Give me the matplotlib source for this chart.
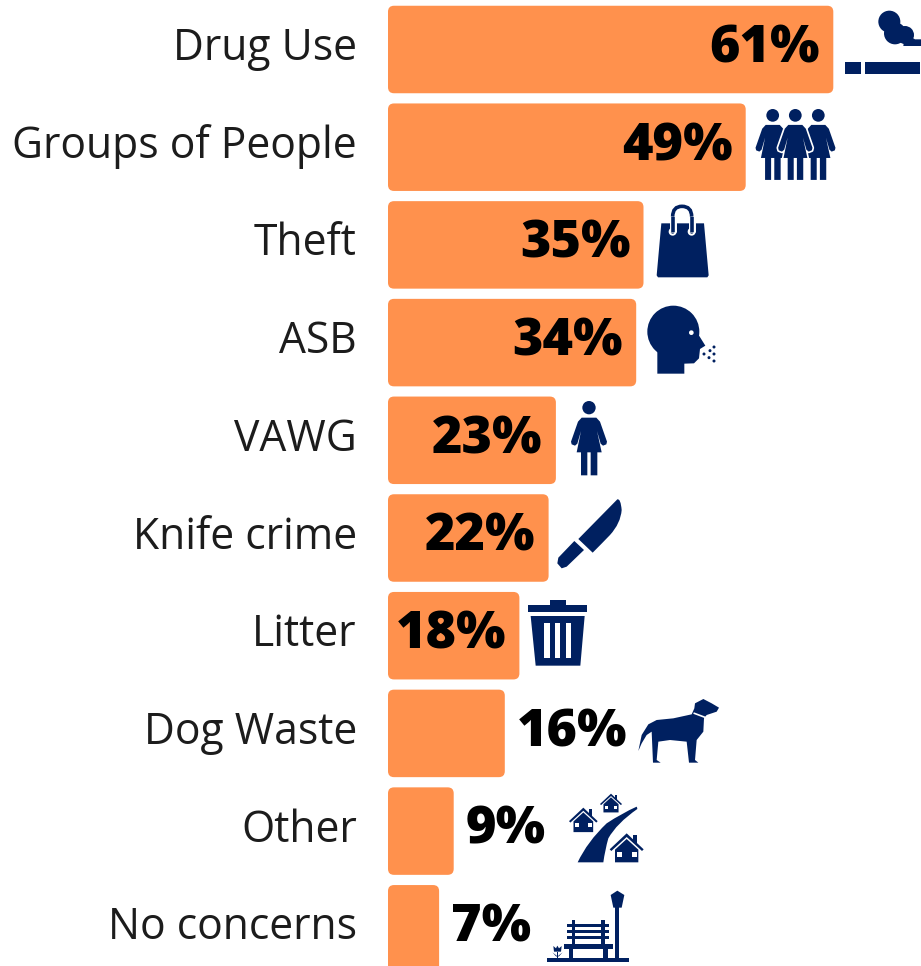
import matplotlib
matplotlib.use("Agg")
import matplotlib.pyplot as plt
from matplotlib.patches import Circle, FancyBboxPatch, PathPatch, Polygon, Rectangle
from matplotlib.path import Path

categories = ["Drug Use", "Groups of People", "Theft", "ASB", "VAWG",
              "Knife crime", "Litter", "Dog Waste", "Other", "No concerns"]
values = [61, 49, 35, 34, 23, 22, 18, 16, 9, 7]

ORANGE = "#FF914D"
NAVY = "#002060"
W, H = 921, 966
PX_PER_PCT = 7.3
ROW = 97.7

fig = plt.figure(figsize=(W / 100, H / 100), dpi=100)
ax = fig.add_axes([0, 0, 1, 1])
ax.set_xlim(-388 / PX_PER_PCT, (W - 388) / PX_PER_PCT)
ax.set_ylim((H - 49.5) / ROW, -49.5 / ROW)
ax.axis("off")

bar_h = 87.5 / ROW
corner = 6 / PX_PER_PCT
for i, v in enumerate(values):
    ax.add_patch(FancyBboxPatch((0, i - bar_h / 2), v, bar_h,
                                boxstyle=f"round,pad=0,rounding_size={corner}",
                                mutation_aspect=(6 / ROW) / corner,
                                fc=ORANGE, ec="none"))
    ax.annotate(categories[i], (0, i), xytext=(-22.5, 0.5), textcoords="offset points",
                ha="right", va="center", fontsize=30.7, color="#1c1c1c",
                family="Open Sans")
    inside = v >= 18
    ax.annotate(f"{v}%", (v, i), xytext=(-9.5 if inside else 8.5, 0.5),
                textcoords="offset points", ha="right" if inside else "left",
                va="center", fontsize=37.5, color="black", family="Open Sans",
                weight=800)

# icons live on a second axes measured in pixels
ic = fig.add_axes([0, 0, 1, 1])
ic.set_xlim(0, W)
ic.set_ylim(H, 0)
ic.axis("off")
ic.patch.set_alpha(0)


def poly(pts, ox, oy, fc=NAVY, k=1 / 3, **kw):
    ic.add_patch(Polygon([(ox + x * k, oy + y * k) for x, y in pts],
                         closed=True, fc=fc, ec="none", **kw))


def circ(x, y, r, ox, oy, fc=NAVY, k=1 / 3):
    ic.add_patch(Circle((ox + x * k, oy + y * k), r * k, fc=fc, ec="none"))


def rect(x0, y0, x1, y1, ox, oy, fc=NAVY, k=1 / 3):
    ic.add_patch(Rectangle((ox + x0 * k, oy + y0 * k), (x1 - x0) * k, (y1 - y0) * k,
                           fc=fc, ec="none"))


def smooth(verts, ox, oy, fc=NAVY, k=1 / 3):
    # closed outline made of quadratic segments: corner, control, corner, ...
    pts = [(ox + x * k, oy + y * k) for x, y in verts]
    codes = [Path.MOVETO] + [Path.CURVE3] * (len(pts) - 1) + [Path.CLOSEPOLY]
    ic.add_patch(PathPatch(Path(pts + [pts[0]], codes), fc=fc, ec="none"))


WOMAN = [(-22, 50), (22, 50), (33, 62), (54, 122), (52, 130), (42, 134), (35, 128),
         (24, 90), (38, 154), (25, 154), (25, 223), (5, 223), (5, 154), (-5, 154),
         (-5, 223), (-24, 223), (-24, 154), (-37, 154), (-24, 90), (-35, 128),
         (-42, 134), (-52, 130), (-54, 122), (-33, 62)]


def woman(cx, top, k, halo=False):
    pts = [(cx + x * k, top + y * k) for x, y in WOMAN]
    if halo:
        ic.add_patch(Polygon(pts, closed=True, fc="white", ec="white", lw=2.4,
                             joinstyle="round"))
    ic.add_patch(Polygon(pts, closed=True, fc=NAVY, ec="none"))
    ic.add_patch(Circle((cx, top + 20 * k), 20 * k, fc=NAVY, ec="none"))


def house(cx, apex, w, ox=500, oy=685):
    # w is half the roof span, everything else scales from it
    s = w / 51
    chev = [(0, 0), (51, 48), (46, 53), (0, 11), (-46, 53), (-51, 48)]
    poly([(cx + x * s, apex + y * s) for x, y in chev], ox, oy)
    rect(cx + 20 * s, apex + 5 * s, cx + 30 * s, apex + 28 * s, ox, oy)
    body = [(0, 17), (35, 49), (35, 87), (-35, 87), (-35, 49)]
    poly([(cx + x * s, apex + y * s) for x, y in body], ox, oy)
    for x0 in (-30, 15):
        rect(cx + x0 * s, apex + 55 * s, cx + (x0 + 15) * s, apex + 70 * s, ox, oy, fc="white")


# Drug Use: smoke over a cigarette
for x, y, r in [(748, 65, 33), (765, 100, 33), (795, 105, 27)]:
    circ(x, y, r, 640, 0)
poly([(795, 100), (825, 118), (843, 118), (843, 138), (790, 138)], 640, 0)
rect(615, 186, 663, 221, 640, 0)
rect(675, 186, 840, 221, 640, 0)

# Groups of People
woman(772.7, 109, 0.318)
woman(818.3, 109, 0.318)
woman(795.3, 109, 0.318, halo=True)

# Theft: shopping bag
poly([(484, 70), (612, 70), (626, 226), (622, 232), (474, 232), (470, 226)], 500, 200)
for lw, col in [(5, "white"), (2.6, NAVY)]:
    ic.plot([500 + 518 / 3, 500 + 518 / 3], [200 + 95 / 3, 200 + 50 / 3], color=col, lw=lw,
            solid_capstyle="butt")
    ic.plot([500 + 575 / 3, 500 + 575 / 3], [200 + 95 / 3, 200 + 50 / 3], color=col, lw=lw,
            solid_capstyle="butt")
ic.add_patch(PathPatch(Path([(500 + 518 / 3, 200 + 50 / 3), (500 + 518 / 3, 200 + 19 / 3),
                             (500 + 546 / 3, 200 + 19 / 3), (500 + 575 / 3, 200 + 19 / 3),
                             (500 + 575 / 3, 200 + 50 / 3)],
                            [Path.MOVETO, Path.CURVE3, Path.CURVE3, Path.CURVE3, Path.CURVE3]),
                       fc="none", ec=NAVY, lw=2.6))
for x in (518, 575):
    circ(x, 95, 12, 500, 200, fc="white")
    circ(x, 95, 6, 500, 200)

# ASB: head spitting
circ(520, 395, 78, 500, 200)
poly([(555, 328), (588, 365), (596, 405), (616, 437), (600, 447), (597, 475), (582, 490),
      (553, 491), (553, 521), (472, 521), (472, 445)], 500, 200)
circ(574, 398, 7, 500, 200, fc="white")
for x, y in [(630, 452), (642, 441), (612, 462), (642, 462), (627, 473), (642, 483)]:
    circ(x, y, 4.5, 500, 200)

# VAWG
woman(589, 401, 1 / 3)

# Knife crime
smooth([(235, 432), (293, 373), (352, 313), (362, 310), (365, 345), (362, 385), (330, 420),
        (304, 447), (278, 473), (256, 452), (235, 432)], 500, 395)
poly([(223, 438), (252, 465), (200, 515), (185, 520), (172, 505), (175, 488)], 500, 395)

# Litter: bin
rect(84, 631, 261, 652, 500, 395)
rect(150, 615, 197, 631, 500, 395)
poly([(92, 663), (254, 663), (241, 812), (107, 812)], 500, 395)
for x0, x1 in [(132, 149), (164, 181), (197, 213)]:
    rect(x0, 684, x1, 789, 500, 395, fc="white")

# Dog Waste
poly([(415, 198), (425, 150), (445, 118), (470, 105), (520, 100), (575, 88), (583, 70),
      (585, 55), (610, 42), (635, 55), (657, 68), (650, 80), (620, 90), (612, 100),
      (610, 140), (590, 165), (585, 225), (595, 233), (567, 233), (560, 170), (510, 165),
      (475, 170), (470, 225), (482, 233), (459, 233), (455, 140), (440, 150), (425, 175)],
     500, 685)
ic.plot([500 + 583 / 3, 500 + 615 / 3], [685 + 85 / 3, 685 + 97 / 3], color="white", lw=1.2)

# Other: houses along a road
smooth([(233, 532), (262, 470), (320, 415), (365, 385), (410, 365), (412, 369), (412, 372),
        (350, 415), (325, 460), (315, 495), (310, 532), (270, 532), (233, 532)], 500, 685)
house(380, 445, 51)
house(250, 368, 43)
house(333, 326, 33)

# No concerns: bench and lamp post
rect(141, 818, 388, 830, 500, 685)
rect(346, 665, 358, 820, 500, 685)
poly([(332, 630), (352, 617), (373, 630), (365, 668), (340, 668)], 500, 685)
rect(192, 777, 338, 793, 500, 685)
for x0, x1 in [(207, 220), (310, 323)]:
    rect(x0, 793, x1, 820, 500, 685)
for y0, y1 in [(717, 727), (735, 745), (752, 763)]:
    rect(202, y0, 328, y1, 500, 685)
for x0, x1 in [(215, 225), (304, 315)]:
    rect(x0, 705, x1, 777, 500, 685)
poly([(160, 783), (168, 790), (172, 782), (177, 790), (185, 783), (183, 800), (162, 800)],
     500, 685)
rect(170, 800, 175, 820, 500, 685)
poly([(157, 802), (170, 812), (170, 816)], 500, 685)
poly([(188, 802), (175, 812), (175, 816)], 500, 685)

fig.savefig("out.png", dpi=100)
